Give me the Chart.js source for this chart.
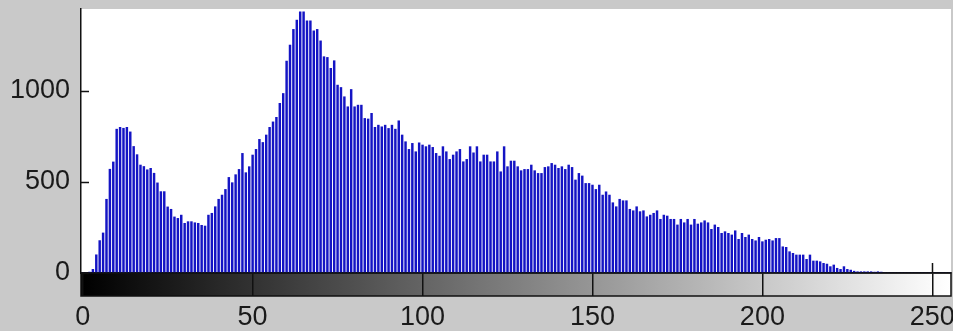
<!DOCTYPE html>
<html>
<head>
<meta charset="utf-8">
<script src="https://cdn.jsdelivr.net/npm/chart.js@4"></script>
<style>
html, body { margin: 0; padding: 0; background: #c9c9c9; }
</style>
</head>
<body>
<canvas id="hist" width="953" height="331"></canvas>
<script>
// pixel counts per gray level (0..255)
const counts = [
    0, 0, 5, 20, 100, 178, 220, 405, 570, 610,
    790, 800, 795, 800, 775, 695, 650, 593, 585, 567,
    575, 548, 495, 447, 447, 363, 350, 308, 300, 318,
    273, 282, 282, 276, 273, 262, 258, 318, 328, 364,
    405, 428, 459, 525, 496, 540, 569, 657, 551, 584,
    648, 679, 734, 717, 758, 800, 830, 855, 932, 986,
    1164, 1252, 1338, 1389, 1435, 1435, 1385, 1385, 1330, 1338,
    1275, 1188, 1184, 1124, 1166, 1032, 1019, 968, 913, 1008,
    913, 922, 922, 849, 846, 877, 800, 812, 803, 812,
    794, 812, 790, 836, 758, 721, 679, 712, 666, 715,
    703, 694, 703, 690, 657, 642, 694, 666, 624, 648,
    666, 679, 611, 624, 694, 660, 694, 611, 648, 648,
    611, 611, 666, 556, 694, 584, 615, 615, 584, 562,
    569, 569, 593, 562, 547, 547, 580, 584, 602, 593,
    575, 584, 569, 593, 580, 511, 547, 533, 492, 492,
    483, 459, 483, 428, 446, 428, 386, 364, 405, 397,
    397, 350, 342, 364, 337, 342, 309, 318, 328, 342,
    295, 318, 313, 295, 295, 264, 295, 276, 295, 264,
    295, 269, 276, 287, 276, 240, 264, 251, 218, 227,
    218, 209, 232, 185, 218, 196, 209, 185, 177, 196,
    172, 181, 185, 177, 190, 190, 144, 141, 117, 108,
    99, 99, 99, 75, 99, 66, 66, 62, 53, 49,
    35, 44, 26, 20, 35, 20, 16, 10, 7, 7,
    7, 7, 7, 5, 7, 5, 0, 0, 0, 0,
    0, 0, 0, 0, 0, 0, 0, 0, 0, 0,
    0, 0, 0, 0, 0, 0
];
const grayLevels = counts.map((c, i) => i);
const xTicks = [0, 50, 100, 150, 200, 250];
const yTicks = [0, 500, 1000];

const BAR_H = 23;  // height of the gray colorbar under the axes

const colorbarPlugin = {
    id: 'colorbar',
    beforeDraw(chart) {
        const { ctx, chartArea: a, scales: { x } } = chart;
        ctx.save();
        ctx.fillStyle = '#c9c9c9';
        ctx.fillRect(0, 0, chart.width, chart.height);
        ctx.fillStyle = '#ffffff';
        ctx.fillRect(a.left, a.top, a.right - a.left, a.bottom - a.top);
        const g = ctx.createLinearGradient(x.getPixelForValue(0), 0, x.getPixelForValue(255), 0);
        g.addColorStop(0, '#000000');
        g.addColorStop(1, '#ffffff');
        ctx.fillStyle = g;
        ctx.fillRect(a.left, a.bottom, a.right - a.left, BAR_H);
        ctx.restore();
    },
    afterDraw(chart) {
        const { ctx, chartArea: a, scales: { x, y } } = chart;
        ctx.save();
        ctx.strokeStyle = '#111';
        ctx.lineWidth = 1.5;
        ctx.strokeRect(a.left, a.bottom, a.right - a.left, BAR_H);
        // inward ticks on the count axis
        ctx.beginPath();
        yTicks.forEach(v => {
            const py = Math.round(y.getPixelForValue(v)) + 0.5;
            ctx.moveTo(a.left, py);
            ctx.lineTo(a.left + 8, py);
        });
        // tick at 250 pokes up above the bar
        const p250 = Math.round(x.getPixelForValue(250)) + 0.5;
        ctx.moveTo(p250, a.bottom - 10);
        ctx.lineTo(p250, a.bottom);
        ctx.stroke();
        ctx.restore();
    }
};

new Chart(document.getElementById('hist').getContext('2d'), {
    type: 'bar',
    data: {
        datasets: [{
            data: counts.map((c, i) => ({ x: grayLevels[i], y: c })),
            backgroundColor: '#1414c4',
            barThickness: 1.8,
            borderWidth: 0
        }]
    },
    options: {
        responsive: false,
        animation: false,
        layout: { padding: { top: 9, right: 2, bottom: 0, left: 0 } },
        plugins: {
            legend: { display: false },
            tooltip: { enabled: false }
        },
        scales: {
            x: {
                type: 'linear',
                offset: false,
                min: -0.5,
                max: 255.5,
                afterBuildTicks: axis => { axis.ticks = xTicks.map(v => ({ value: v })); },
                afterFit: axis => {
                    axis.height = 58;
                    axis.paddingLeft = 0;
                    axis.paddingRight = 0;
                },
                grid: {
                    offset: false,
                    drawOnChartArea: false,
                    drawTicks: true,
                    tickLength: BAR_H,
                    color: '#111',
                    lineWidth: 1.5
                },
                border: { display: true, color: '#111', width: 1.5 },
                ticks: {
                    padding: 5,
                    maxRotation: 0,
                    autoSkip: false,
                    color: '#1a1a1a',
                    font: { family: 'Liberation Sans, Arial, sans-serif', size: 27 }
                }
            },
            y: {
                min: 0,
                max: 1450,
                afterBuildTicks: axis => { axis.ticks = yTicks.map(v => ({ value: v })); },
                afterFit: axis => {
                    axis.width = 81;
                    axis.paddingTop = 0;
                    axis.paddingBottom = 0;
                },
                grid: { drawOnChartArea: false, drawTicks: false },
                border: { display: true, color: '#111', width: 1.5 },
                ticks: {
                    padding: 11,
                    color: '#1a1a1a',
                    callback: v => String(v),
                    font: { family: 'Liberation Sans, Arial, sans-serif', size: 27 }
                }
            }
        }
    },
    plugins: [colorbarPlugin]
});
</script>
</body>
</html>
